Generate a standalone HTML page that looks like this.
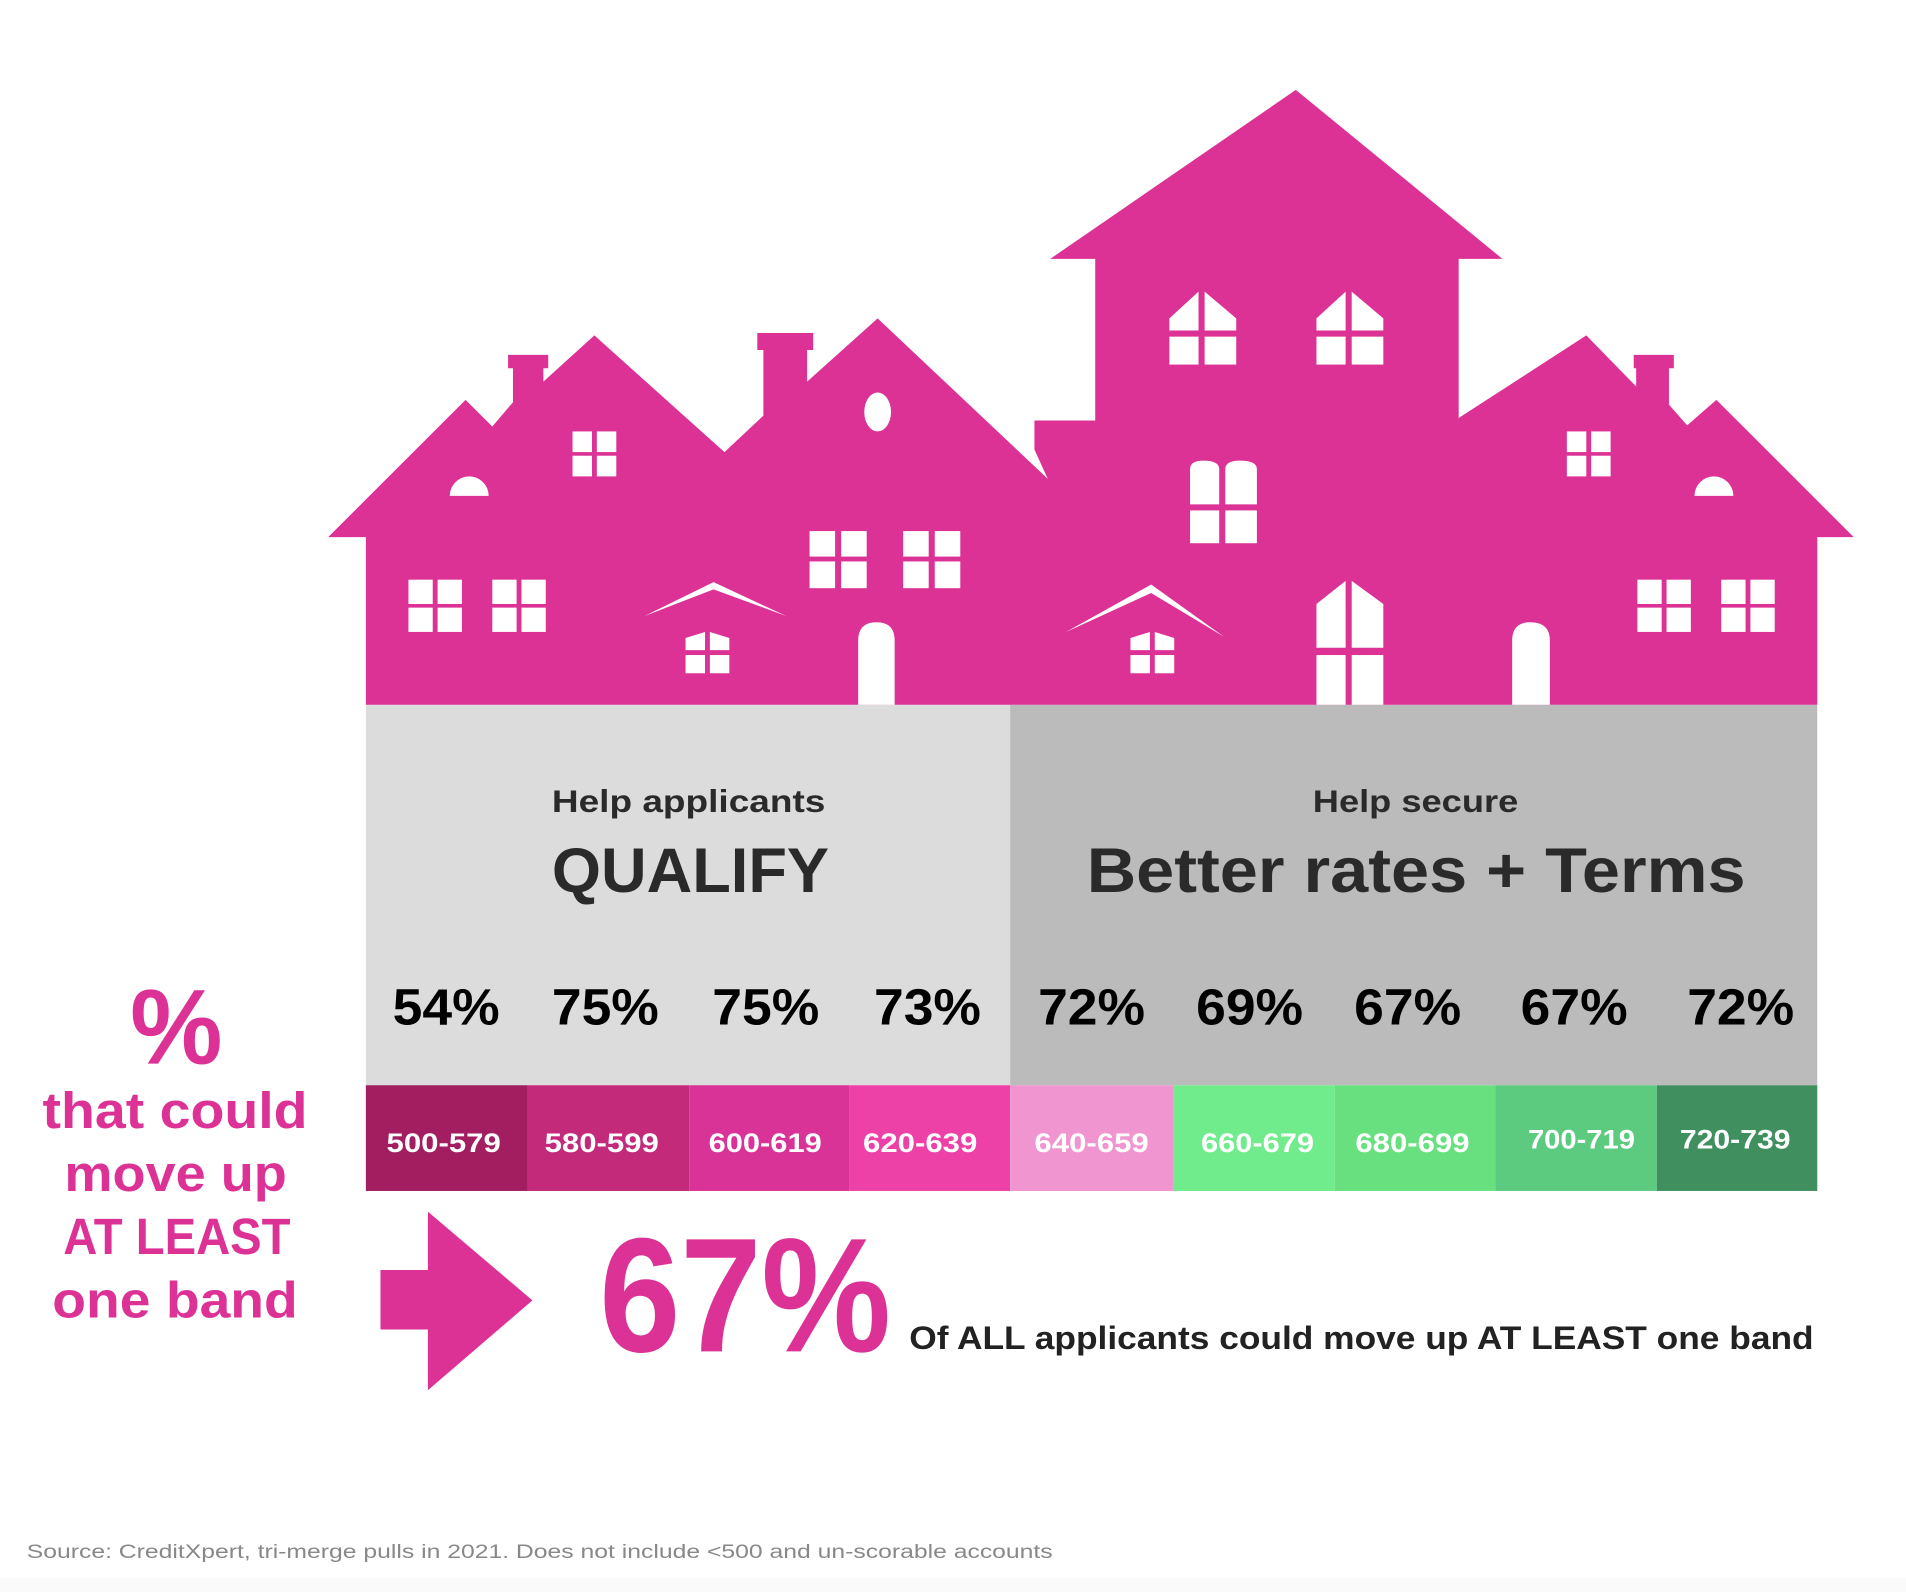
<!DOCTYPE html>
<html><head><meta charset="utf-8"><style>
html,body{margin:0;padding:0;background:#fff}
svg{display:block}
text{font-family:"Liberation Sans",sans-serif;font-weight:bold}
</style></head><body>
<svg width="1906" height="1592" viewBox="0 0 1568 1310" preserveAspectRatio="none" xmlns="http://www.w3.org/2000/svg">
<rect x="0" y="1298" width="1568" height="12" fill="#fafafa"/>
<polygon fill="#DC3296" points="270,442 383,329 405,351 422,331 422,303 418,303 418,292 451,292 451,303 447,303 447,314 489,276 596,372 628,342 628,288 623,288 623,274 669,274 669,288 664,288 664,314 722,262 862,394 851,370 851,346 901,346 901,213 864,213 1066,74 1236,213 1200,213 1200,344 1305,276 1346,318 1346,303 1344,303 1344,292 1377,292 1377,303 1373,303 1373,333 1388,350 1412,329 1525,442 1495,442 1495,580 301,580 301,442"/>
<g fill="#fff">
<rect x="471" y="355" width="16" height="17"/><rect x="491" y="355" width="16" height="17"/><rect x="471" y="375" width="16" height="17"/><rect x="491" y="375" width="16" height="17"/>
<rect x="1289" y="355" width="16" height="17"/><rect x="1309" y="355" width="16" height="17"/><rect x="1289" y="375" width="16" height="17"/><rect x="1309" y="375" width="16" height="17"/>
<rect x="336" y="477" width="20" height="20"/><rect x="360" y="477" width="20" height="20"/><rect x="336" y="500" width="20" height="20"/><rect x="360" y="500" width="20" height="20"/>
<rect x="405" y="477" width="20" height="20"/><rect x="429" y="477" width="20" height="20"/><rect x="405" y="500" width="20" height="20"/><rect x="429" y="500" width="20" height="20"/>
<rect x="1347" y="477" width="20" height="20"/><rect x="1371" y="477" width="20" height="20"/><rect x="1347" y="500" width="20" height="20"/><rect x="1371" y="500" width="20" height="20"/>
<rect x="1416" y="477" width="20" height="20"/><rect x="1440" y="477" width="20" height="20"/><rect x="1416" y="500" width="20" height="20"/><rect x="1440" y="500" width="20" height="20"/>
<rect x="666" y="437" width="21" height="21"/><rect x="692" y="437" width="21" height="21"/><rect x="666" y="462" width="21" height="22"/><rect x="692" y="462" width="21" height="22"/>
<rect x="743" y="437" width="21" height="21"/><rect x="769" y="437" width="21" height="21"/><rect x="743" y="462" width="21" height="22"/><rect x="769" y="462" width="21" height="22"/>
<polygon points="564,525 580,520 580,535 564,535"/><polygon points="584,520 600,525 600,535 584,535"/><rect x="564" y="539" width="16" height="15"/><rect x="584" y="539" width="16" height="15"/>
<polygon points="930,525 946,520 946,535 930,535"/><polygon points="950,520 966,525 966,535 950,535"/><rect x="930" y="539" width="16" height="15"/><rect x="950" y="539" width="16" height="15"/>
<polygon points="962,262 986,240 986,272 962,272"/><polygon points="991,240 1017,262 1017,272 991,272"/><rect x="962" y="277" width="24" height="23"/><rect x="991" y="277" width="26" height="23"/>
<polygon points="1083,262 1107,240 1107,272 1083,272"/><polygon points="1112,240 1138,262 1138,272 1112,272"/><rect x="1083" y="277" width="24" height="23"/><rect x="1112" y="277" width="26" height="23"/>
<path d="M979,415 L979,386 Q979,379 990,379 Q1003,379 1003,386 L1003,415 Z"/><path d="M1008,415 L1008,386 Q1008,379 1020,379 Q1034,379 1034,386 L1034,415 Z"/>
<rect x="979" y="420" width="24" height="27"/><rect x="1008" y="420" width="26" height="27"/>
<polygon points="1083,497 1107,478 1107,533 1083,533"/><polygon points="1112,478 1138,497 1138,533 1112,533"/><rect x="1083" y="539" width="24" height="41"/><rect x="1112" y="539" width="26" height="41"/>
<path d="M706,580 L706,527 Q706,512 721,512 Q736,512 736,527 L736,580 Z"/>
<path d="M1244,580 L1244,527 Q1244,512 1259,512 Q1275,512 1275,527 L1275,580 Z"/>
<path d="M370,408 A16,16 0 0 1 402,408 Z"/>
<path d="M1394,408 A16,16 0 0 1 1426,408 Z"/>
<ellipse cx="722" cy="339" rx="11" ry="16"/>
<polygon points="530,507 587,479 647,507 587,485"/>
<polygon points="877,520 947,481 1007,524 947,488"/>
</g>
<rect x="301" y="580" width="530" height="313" fill="#DCDCDC"/>
<rect x="831" y="580" width="664" height="313" fill="#BBBBBB"/>
<g font-size="26" fill="#2a2a2a">
<text x="454" y="668" textLength="225" lengthAdjust="spacingAndGlyphs">Help applicants</text>
<text x="1080" y="668" textLength="169" lengthAdjust="spacingAndGlyphs">Help secure</text>
</g>
<g font-size="52" fill="#2a2a2a">
<text x="454" y="734" textLength="228" lengthAdjust="spacingAndGlyphs">QUALIFY</text>
<text x="894" y="734" textLength="542" lengthAdjust="spacingAndGlyphs">Better rates + Terms</text>
</g>
<g font-size="42" fill="#000">
<text x="323" y="843" textLength="88" lengthAdjust="spacingAndGlyphs">54%</text>
<text x="454" y="843" textLength="88" lengthAdjust="spacingAndGlyphs">75%</text>
<text x="586" y="843" textLength="88" lengthAdjust="spacingAndGlyphs">75%</text>
<text x="719" y="843" textLength="88" lengthAdjust="spacingAndGlyphs">73%</text>
<text x="854" y="843" textLength="88" lengthAdjust="spacingAndGlyphs">72%</text>
<text x="984" y="843" textLength="88" lengthAdjust="spacingAndGlyphs">69%</text>
<text x="1114" y="843" textLength="88" lengthAdjust="spacingAndGlyphs">67%</text>
<text x="1251" y="843" textLength="88" lengthAdjust="spacingAndGlyphs">67%</text>
<text x="1388" y="843" textLength="88" lengthAdjust="spacingAndGlyphs">72%</text>
</g>
<rect x="301" y="893" width="133" height="87" fill="#A21E61"/>
<rect x="434" y="893" width="133" height="87" fill="#C32A7A"/>
<rect x="567" y="893" width="132" height="87" fill="#DA3397"/>
<rect x="699" y="893" width="132" height="87" fill="#EE41A8"/>
<rect x="831" y="893" width="134" height="87" fill="#F095D0"/>
<rect x="965" y="893" width="133" height="87" fill="#71EC8C"/>
<rect x="1098" y="893" width="132" height="87" fill="#69E07F"/>
<rect x="1230" y="893" width="133" height="87" fill="#5DCB7F"/>
<rect x="1363" y="893" width="132" height="87" fill="#3F8F5F"/>
<g font-size="22" fill="#fff">
<text x="318" y="948" textLength="94" lengthAdjust="spacingAndGlyphs">500-579</text>
<text x="448" y="948" textLength="94" lengthAdjust="spacingAndGlyphs">580-599</text>
<text x="583" y="948" textLength="93" lengthAdjust="spacingAndGlyphs">600-619</text>
<text x="710" y="948" textLength="94" lengthAdjust="spacingAndGlyphs">620-639</text>
<text x="851" y="948" textLength="94" lengthAdjust="spacingAndGlyphs">640-659</text>
<text x="988" y="948" textLength="93" lengthAdjust="spacingAndGlyphs">660-679</text>
<text x="1115" y="948" textLength="94" lengthAdjust="spacingAndGlyphs">680-699</text>
<text x="1257" y="945" textLength="88" lengthAdjust="spacingAndGlyphs">700-719</text>
<text x="1382" y="945" textLength="91" lengthAdjust="spacingAndGlyphs">720-739</text>
</g>
<g fill="#DC3296">
<text x="107" y="875" font-size="88" textLength="76" lengthAdjust="spacingAndGlyphs">%</text>
<text x="35" y="928" font-size="42" textLength="218" lengthAdjust="spacingAndGlyphs">that could</text>
<text x="53" y="980" font-size="42" textLength="183" lengthAdjust="spacingAndGlyphs">move up</text>
<text x="52" y="1032" font-size="42" textLength="187" lengthAdjust="spacingAndGlyphs">AT LEAST</text>
<text x="43" y="1084" font-size="42" textLength="202" lengthAdjust="spacingAndGlyphs">one band</text>
</g>
<polygon fill="#DC3296" points="313,1045 352,1045 352,997 438,1070 352,1144 352,1094 313,1094"/>
<text x="493" y="1112" font-size="134" fill="#DC3296" textLength="240" lengthAdjust="spacingAndGlyphs">67%</text>
<text x="748" y="1110" font-size="27" fill="#222" textLength="744" lengthAdjust="spacingAndGlyphs">Of ALL applicants could move up AT LEAST one band</text>
<text x="22" y="1282" font-size="16" fill="#888" style="font-weight:normal" textLength="844" lengthAdjust="spacingAndGlyphs">Source: CreditXpert, tri-merge pulls in 2021. Does not include &lt;500 and un-scorable accounts</text>
</svg>
</body></html>
